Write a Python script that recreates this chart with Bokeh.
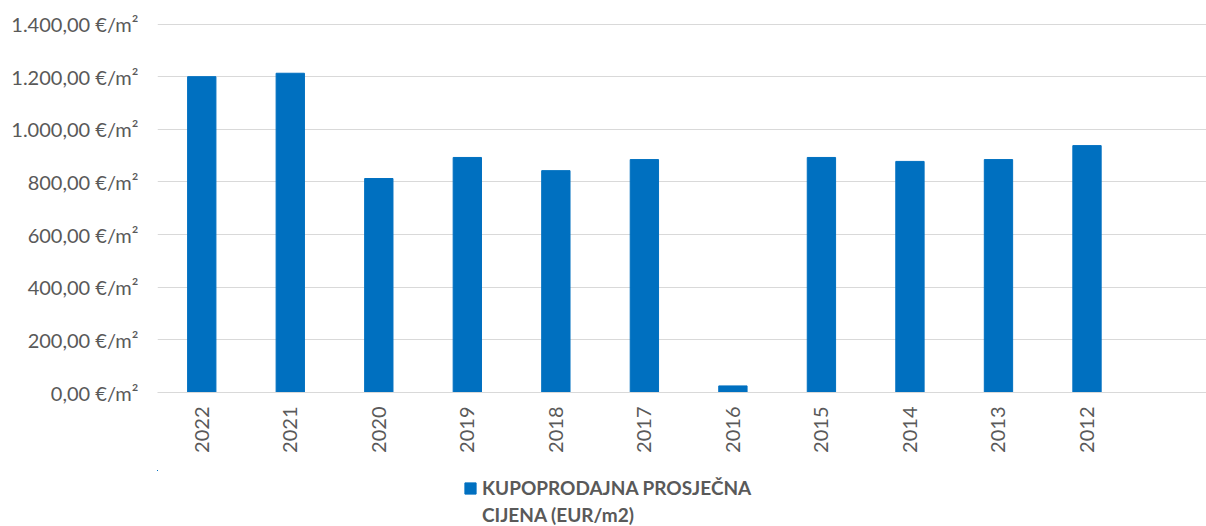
import math
from bokeh.plotting import figure
from bokeh.layouts import column
from bokeh.models import Range1d, FixedTicker, Legend, LegendItem, ColumnDataSource
from bokeh.embed import file_html
from bokeh.resources import INLINE

# ---- data ----
years = ["2022", "2021", "2020", "2019", "2018", "2017", "2016", "2015", "2014", "2013", "2012"]
prices = [1200, 1213, 813, 893, 843, 885, 25, 893, 878, 885, 938]
y_ticks = [0, 200, 400, 600, 800, 1000, 1200, 1400]
y_tick_labels = ["0,00 €/m²", "200,00 €/m²", "400,00 €/m²", "600,00 €/m²",
                 "800,00 €/m²", "1.000,00 €/m²", "1.200,00 €/m²", "1.400,00 €/m²"]
series_name_lines = ["KUPOPRODAJNA PROSJEČNA", "CIJENA (EUR/m2)"]

FONT = "Lato"
TXT = "#595959"
GRID = "#d9d9d9"
BAR = "#0070C0"

xs = list(range(len(years)))
src = ColumnDataSource(dict(x=xs, top=prices, year=years))

p = figure(width=1206, height=470, output_backend="svg", toolbar_location=None,
           x_range=Range1d(-0.5, 11.35), y_range=Range1d(0, 1402),
           min_border_left=157, min_border_right=0, min_border_top=23,
           min_border_bottom=78)
p.outline_line_color = None
p.background_fill_color = "white"
p.border_fill_color = "white"

r = p.vbar(x="x", top="top", width=0.32, source=src, fill_color=BAR, line_color=BAR)

# y axis
p.yaxis.ticker = FixedTicker(ticks=y_ticks)
p.yaxis.major_label_overrides = {t: l for t, l in zip(y_ticks, y_tick_labels)}
p.yaxis.axis_line_color = None
p.yaxis.major_tick_line_color = None
p.yaxis.minor_tick_line_color = None
p.yaxis.major_label_standoff = 13
p.yaxis.major_label_text_font = FONT
p.yaxis.major_label_text_font_size = "20px"
p.yaxis.major_label_text_color = TXT

# x axis
p.xaxis.ticker = FixedTicker(ticks=xs)
p.xaxis.major_label_overrides = {i: y for i, y in zip(xs, years)}
p.xaxis.major_label_orientation = math.pi / 2
p.xaxis.axis_line_color = GRID
p.xaxis.major_tick_line_color = None
p.xaxis.minor_tick_line_color = None
p.xaxis.major_label_standoff = 8
p.xaxis.major_label_text_font = FONT
p.xaxis.major_label_text_font_size = "20px"
p.xaxis.major_label_text_color = TXT

p.xgrid.grid_line_color = None
p.ygrid.grid_line_color = GRID
p.ygrid.grid_line_width = 1

# ---- legend strip below the chart (its frame is aligned with the chart's frame) ----
lg = figure(width=1206, height=56, output_backend="svg", toolbar_location=None,
            x_range=Range1d(500, 501), y_range=Range1d(-5000, -4999),
            min_border_left=157, min_border_right=0, min_border_top=0, min_border_bottom=0)
lg.outline_line_color = None
lg.axis.visible = False
lg.grid.visible = False
lg.border_fill_color = "white"
lg.background_fill_color = "white"
# same series, placed outside this strip's visible range: only used for the legend key
r_key = lg.vbar(x="x", top="top", width=0.32, source=src, fill_color=BAR, line_color=BAR)
r_blank = lg.vbar(x="x", top="top", width=0.32, source=src, fill_alpha=0, line_alpha=0)

legend = Legend(items=[LegendItem(label=series_name_lines[0], renderers=[r_key]),
                       LegendItem(label=series_name_lines[1], renderers=[r_blank])],
                location=(306, 0), orientation="vertical",
                border_line_color=None, background_fill_alpha=0,
                padding=0, margin=0, spacing=4,
                glyph_width=14, glyph_height=14, label_standoff=5,
                label_text_font=FONT, label_text_font_size="19px",
                label_text_font_style="bold", label_text_color=TXT)
lg.add_layout(legend, "center")

layout = column(p, lg, spacing=0)
open("out.html", "w").write(file_html(layout, INLINE))
